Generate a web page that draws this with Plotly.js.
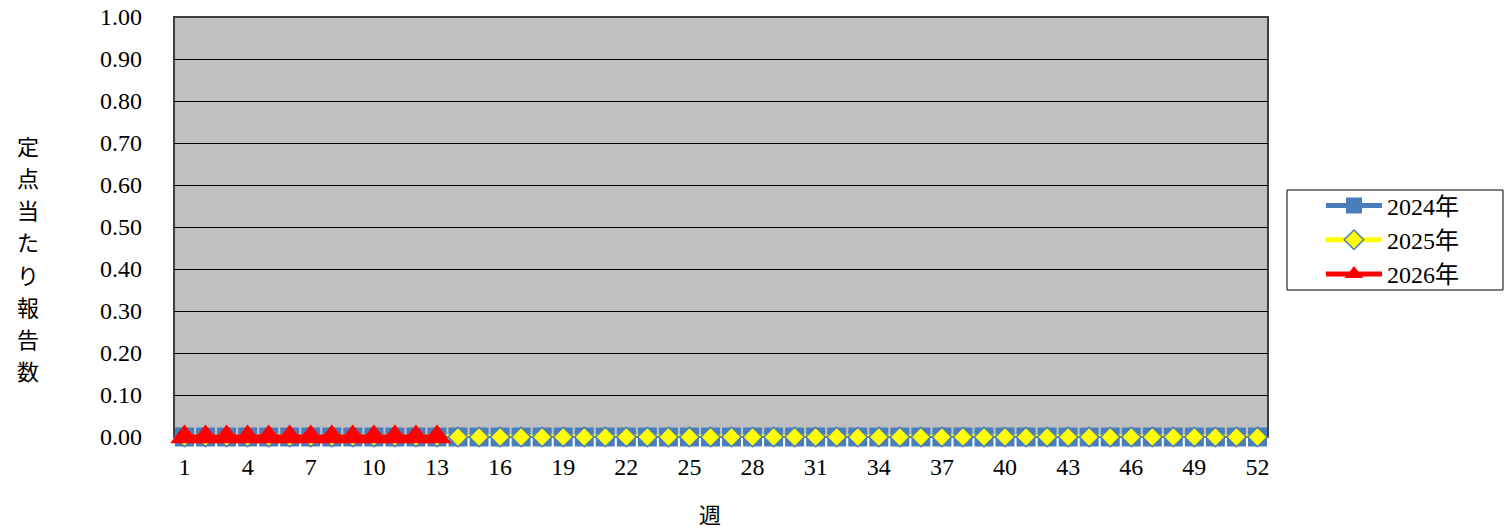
<!DOCTYPE html>
<html>
<head>
<meta charset="utf-8">
<script src="https://cdn.plot.ly/plotly-3.0.1.min.js"></script>
<style>
html,body{margin:0;padding:0;background:#fff;}
#chart{width:1504px;height:530px;}
</style>
</head>
<body>
<div id="chart"></div>
<script>
const weeks = [1,2,3,4,5,6,7,8,9,10,11,12,13,14,15,16,17,18,19,20,21,22,23,24,25,26,27,28,29,30,31,32,33,34,35,36,37,38,39,40,41,42,43,44,45,46,47,48,49,50,51,52];
const weekTicks = [1,4,7,10,13,16,19,22,25,28,31,34,37,40,43,46,49,52];
const yTicks = [0,0.1,0.2,0.3,0.4,0.5,0.6,0.7,0.8,0.9,1.0];
const seriesNames = ["2024年","2025年","2026年"];
const v2024 = [0,0,0,0,0,0,0,0,0,0,0,0,0,0,0,0,0,0,0,0,0,0,0,0,0,0,0,0,0,0,0,0,0,0,0,0,0,0,0,0,0,0,0,0,0,0,0,0,0,0,0,0];
const v2025 = [0,0,0,0,0,0,0,0,0,0,0,0,0,0,0,0,0,0,0,0,0,0,0,0,0,0,0,0,0,0,0,0,0,0,0,0,0,0,0,0,0,0,0,0,0,0,0,0,0,0,0,0];
const v2026 = [0,0,0,0,0,0,0,0,0,0,0,0,0];
const yTitle = "定点当たり報告数";
const xTitle = "週";

const serif = "'Liberation Serif', 'Noto Sans CJK JP', serif";
const cjk = "'Noto Sans CJK JP', sans-serif";

const traces = [
  {x: weeks.slice(0, v2024.length), y: v2024, name: seriesNames[0], type: 'scatter', mode: 'lines+markers', cliponaxis: false,
   line: {color: '#4A7EBB', width: 5}, marker: {symbol: 'square', size: 19, color: '#4A7EBB'}},
  {x: weeks.slice(0, v2025.length), y: v2025, name: seriesNames[1], type: 'scatter', mode: 'lines+markers', cliponaxis: false,
   line: {color: '#FFFF00', width: 5}, marker: {symbol: 'diamond', size: 15, color: '#FFFF00', line: {color: '#4A7EBB', width: 1.5}}},
  {x: weeks.slice(0, v2026.length), y: v2026, name: seriesNames[2], type: 'scatter', mode: 'lines+markers', cliponaxis: false,
   line: {color: '#FF0000', width: 5}, marker: {symbol: 'triangle-up', size: 25, color: '#FF0000'}}
];

// plot area in pixels: left 174, right 1268, top 17, bottom 437
const plotL = 174, plotW = 1094, plotB = 437, plotH = 420;
const px2x = p => (p - plotL) / plotW;
const px2y = p => (plotB - p) / plotH;

const titleChars = yTitle.split('');
const annotations = titleChars.map((ch, i) => ({
  xref: 'paper', yref: 'paper', x: px2x(28), y: px2y(145 + i * (225 / (titleChars.length - 1))),
  xanchor: 'center', yanchor: 'middle', showarrow: false, text: ch, font: {family: cjk, size: 22}
}));
annotations.push({xref: 'paper', yref: 'paper', x: px2x(710), y: px2y(513), xanchor: 'center', yanchor: 'middle',
  showarrow: false, text: xTitle, font: {family: cjk, size: 22}});

const layout = {
  width: 1504, height: 530,
  margin: {l: 174, r: 236, t: 17, b: 93},
  paper_bgcolor: '#FFFFFF',
  plot_bgcolor: '#C0C0C0',
  font: {family: serif, size: 24, color: '#000'},
  showlegend: true,
  legend: {x: px2x(1321), xanchor: 'left', y: px2y(240), yanchor: 'middle', bgcolor: 'rgba(0,0,0,0)', borderwidth: 0,
           font: {family: serif, size: 24}, itemwidth: 56, tracegroupgap: 0},
  xaxis: {range: [0.5, 52.5], tickvals: weekTicks, ticktext: weekTicks.map(String), showgrid: false, zeroline: false,
          showline: false, ticks: '', ticklabelstandoff: 13, tickfont: {family: serif, size: 24}},
  yaxis: {range: [0, 1], tickvals: yTicks, ticktext: yTicks.map(v => v.toFixed(2)), showgrid: true, gridcolor: '#000', gridwidth: 1,
          zeroline: false, showline: false, ticks: '', ticklabelstandoff: 31, tickfont: {family: serif, size: 24}},
  shapes: [
    {type: 'rect', xref: 'paper', yref: 'paper', x0: 0, x1: 1, y0: 0, y1: 1, line: {color: '#404040', width: 2}, fillcolor: 'rgba(0,0,0,0)', layer: 'below'},
    {type: 'rect', xref: 'paper', yref: 'paper', x0: px2x(1287), x1: px2x(1503), y0: px2y(290), y1: px2y(190), line: {color: '#000', width: 1}, fillcolor: '#FFFFFF', layer: 'below'}
  ],
  annotations: annotations
};

Plotly.newPlot('chart', traces, layout, {displayModeBar: false, staticPlot: true});
</script>
</body>
</html>
